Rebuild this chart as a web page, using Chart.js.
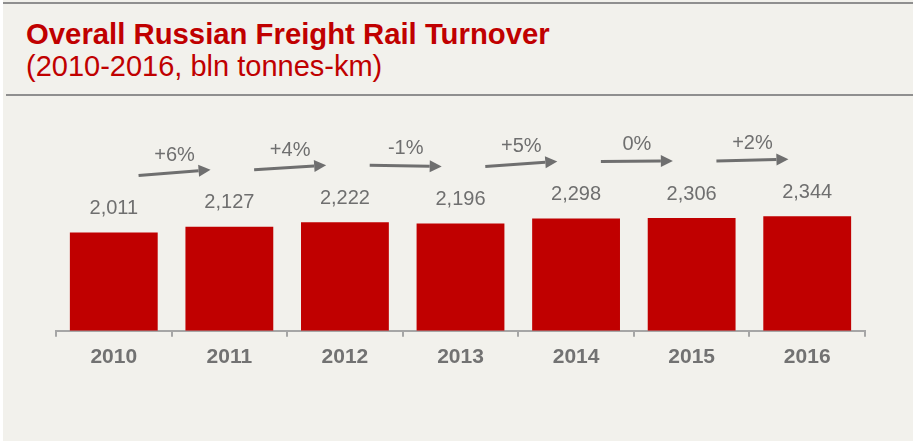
<!DOCTYPE html>
<html>
<head>
<meta charset="utf-8">
<script src="https://cdn.jsdelivr.net/npm/chart.js@4"></script>
<style>
  html, body { margin: 0; padding: 0; background: #ffffff; }
  body { width: 913px; height: 441px; position: relative; overflow: hidden;
         font-family: "Liberation Sans", Arial, sans-serif; }
  #panel { position: absolute; left: 3px; top: 0; width: 910px; height: 441px; background: #f2f1ec; }
  .rule { position: absolute; left: 0; right: 0; height: 2px; background: #8f8f8f; }
  #title { position: absolute; left: 23px; top: 19px; line-height: 1; color: #c00000; font-weight: bold; font-size: 29.3px; white-space: nowrap; }
  #sub { position: absolute; left: 23px; top: 52px; line-height: 1; color: #c00000; font-size: 29px; white-space: nowrap; }
  #wrap { position: absolute; left: 0; top: 100px; width: 913px; height: 300px; }
</style>
</head>
<body>
<div id="panel">
  <div class="rule" style="top:2px"></div>
  <div id="title">Overall Russian Freight Rail Turnover</div>
  <div id="sub">(2010-2016, bln tonnes-km)</div>
  <div class="rule" style="top:94px;left:3px"></div>
</div>
<div id="wrap"><canvas id="chart"></canvas></div>
<script>
const years = ['2010', '2011', '2012', '2013', '2014', '2015', '2016'];
const turnover = [2011, 2127, 2222, 2196, 2298, 2306, 2344];
const growth = ['+6%', '+4%', '-1%', '+5%', '0%', '+2%'];

const grey = '#6f6f6f';

// value labels above bars + growth arrows between them
const annotations = {
  id: 'annotations',
  afterDatasetsDraw(chart){
    const ctx = chart.ctx;
    const bars = chart.getDatasetMeta(0).data;
    ctx.save();
    ctx.fillStyle = grey;
    ctx.font = '20px "Liberation Sans", Arial, sans-serif';
    ctx.textAlign = 'center';
    ctx.textBaseline = 'middle';
    bars.forEach((b, i) => {
      ctx.fillText(turnover[i].toLocaleString('en-US'), b.x, b.y - 24);
    });

    ctx.strokeStyle = grey;
    ctx.lineWidth = 3;
    growth.forEach((g, i) => {
      const mx = (bars[i].x + bars[i+1].x) / 2 + 3;
      const x0 = mx - 36, x1 = mx + 36;
      const y0 = bars[i].y - 57, y1 = bars[i+1].y - 57;
      const ang = Math.atan2(y1 - y0, x1 - x0);
      const hx = x1 - 12 * Math.cos(ang), hy = y1 - 12 * Math.sin(ang);
      ctx.beginPath();
      ctx.moveTo(x0, y0);
      ctx.lineTo(hx, hy);
      ctx.stroke();
      ctx.beginPath();
      ctx.moveTo(x1, y1);
      ctx.lineTo(hx + 6 * Math.sin(ang), hy - 6 * Math.cos(ang));
      ctx.lineTo(hx - 6 * Math.sin(ang), hy + 6 * Math.cos(ang));
      ctx.closePath();
      ctx.fill();
      ctx.fillText(g, mx, (y0 + y1) / 2 - 17);
    });
    ctx.restore();
  }
};

new Chart(document.getElementById('chart'), {
  type: 'bar',
  data: {
    labels: years,
    datasets: [{
      data: turnover,
      backgroundColor: '#c00000',
      barPercentage: 0.76,
      categoryPercentage: 1
    }]
  },
  options: {
    responsive: true,
    maintainAspectRatio: false,
    animation: false,
    layout: { padding: { left: 56, right: 48, top: 0, bottom: 22 } },
    plugins: { legend: { display: false }, tooltip: { enabled: false } },
    scales: {
      x: {
        border: { color: '#a6a6a6', width: 2 },
        grid: { offset: true, drawOnChartArea: false, tickLength: 6, color: '#a6a6a6', lineWidth: 2 },
        ticks: { color: '#727272', padding: 8, font: { family: '"Liberation Sans", Arial, sans-serif', size: 21, weight: 'bold' } }
      },
      y: { display: false, min: 0, max: 4720 }
    }
  },
  plugins: [annotations]
});
</script>
</body>
</html>
